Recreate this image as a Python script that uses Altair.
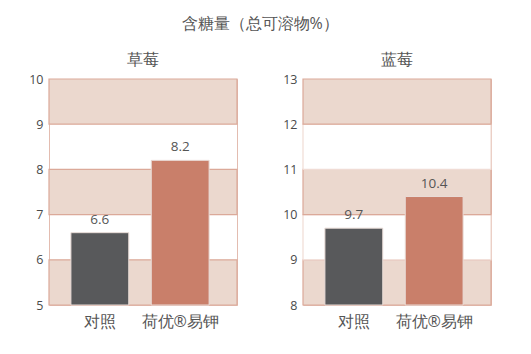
import altair as alt
import pandas as pd

main_title = "含糖量（总可溶物%）"
panels = ["草莓", "蓝莓"]
categories = ["对照", "荷优®易钾"]
values = {"草莓": [6.6, 8.2], "蓝莓": [9.7, 10.4]}
y_domains = {"草莓": [5, 10], "蓝莓": [8, 13]}
band_starts = {"草莓": [5, 7, 9], "蓝莓": [8, 9, 10, 11, 12]}
band_kind = {"草莓": ["fill", "fill", "fill"], "蓝莓": ["fill", "white", "fill", "white", "fill"]}
bar_colors = ["#58595b", "#c97f6a"]
FONT = "Open Sans"


def panel(name):
    lo, hi = y_domains[name]
    bands = pd.DataFrame({
        "y": band_starts[name],
        "y2": [b + 1 for b in band_starts[name]],
        "kind": band_kind[name],
    })
    bars = pd.DataFrame({"cat": categories, "val": values[name], "color": bar_colors})
    yscale = alt.Scale(domain=[lo, hi], nice=False, zero=False)
    xscale = alt.Scale(domain=categories, paddingInner=0.28, paddingOuter=0.31, align=0.44)

    band_layer = alt.Chart(bands).mark_rect(strokeWidth=1.2).encode(
        x=alt.value(0), x2=alt.value(188),
        y=alt.Y("y:Q", scale=yscale,
                axis=alt.Axis(values=list(range(lo, hi + 1)), title=None, ticks=False,
                              domain=False, grid=False, labelFont=FONT, labelFontSize=12.5,
                              labelColor="#4a4a4a", labelPadding=6)),
        y2="y2:Q",
        fill=alt.Fill("kind:N", scale=alt.Scale(domain=["fill", "white"], range=["#ebd8ce", "#ffffff"]), legend=None),
        stroke=alt.Stroke("kind:N", scale=alt.Scale(domain=["fill", "white"], range=["#dba999", "#f0dcd5"]), legend=None),
    )
    bar_layer = alt.Chart(bars).mark_bar(stroke="#e9dcd7", strokeWidth=1).encode(
        x=alt.X("cat:N", scale=xscale, sort=categories,
                axis=alt.Axis(title=None, labelAngle=0, ticks=False, domain=False,
                              labelFont=FONT, labelFontSize=16, labelColor="#555555", labelPadding=8)),
        y=alt.Y("val:Q", scale=yscale),
        y2=alt.datum(lo),
        color=alt.Color("color:N", scale=None),
    )
    text_layer = alt.Chart(bars).mark_text(dy=-13, font=FONT, fontSize=13.5, color="#555555").encode(
        x=alt.X("cat:N", scale=xscale, sort=categories),
        y=alt.Y("val:Q", scale=yscale),
        text=alt.Text("val:Q", format=".1f"),
    )
    return alt.layer(band_layer, bar_layer, text_layer).properties(
        width=188, height=226,
        title=alt.TitleParams(name, font=FONT, fontSize=15.5, fontWeight="normal", color="#555555", offset=5),
    )


chart = alt.hconcat(panel("草莓"), panel("蓝莓"), spacing=43).properties(
    title=alt.TitleParams(main_title, font=FONT, fontSize=16, fontWeight="normal", color="#555555",
                          anchor="middle", offset=20),
    padding={"left": 28, "top": 16, "right": 5, "bottom": 5},
).configure_view(stroke="#e3bcb0", strokeWidth=1)

chart.save("out.html", embed_options={"renderer": "svg", "actions": False})
